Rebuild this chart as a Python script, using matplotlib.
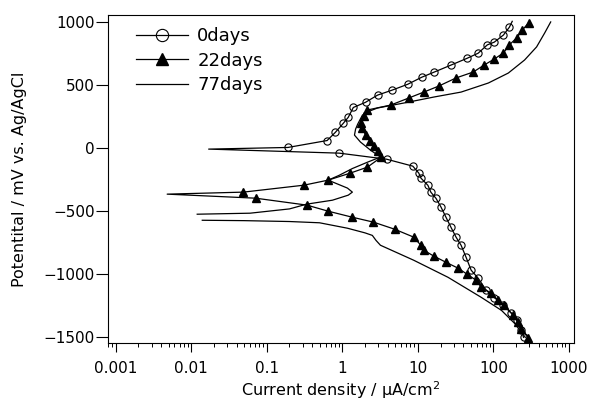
import numpy as np
import matplotlib
matplotlib.use('Agg')
import matplotlib.pyplot as plt

# current density (uA/cm2) and potential (mV vs Ag/AgCl)
i_0days = [251, 236, 203, 174, 136, 103, 80.7, 63.1, 50.9, 43.6, 37.4, 32.1, 27.5, 23.6,
           20.3, 17.4, 14.9, 13.6, 11.0, 10.3, 8.58, 3.86, 0.91, 0.017, 0.19, 0.63, 0.81,
           1.03, 1.20, 1.40, 2.03, 2.93, 4.50, 7.36, 11.3, 16.4, 27.5, 45.0, 62.9, 83.2,
           103, 136, 163, 178]
E_0days = [-1500, -1445, -1365, -1310, -1245, -1185, -1128, -1032, -968, -866, -770, -706,
           -628, -548, -468, -398, -350, -295, -238, -198, -143, -88, -40, -8, 5, 60, 125,
           196, 244, 322, 363, 420, 458, 506, 562, 602, 658, 712, 752, 818, 840, 896, 958, 1005]

i_22days = [290, 236, 215, 184, 139, 116, 94.4, 69.2, 59.3, 45.0, 34.2, 23.6, 16.4, 12.0,
            10.96, 8.84, 4.94, 2.59, 1.36, 0.65, 0.34, 0.071, 0.0048, 0.049, 0.31, 0.65,
            1.28, 2.15, 3.3, 3.0, 2.6, 2.3, 2.03, 1.85, 1.79, 1.91, 2.15, 4.37, 7.59, 12.0,
            19.0, 32.1, 54.2, 75.9, 103, 136, 163, 203, 243, 293]
E_22days = [-1508, -1430, -1381, -1325, -1246, -1206, -1151, -1103, -1048, -1000, -952,
            -905, -857, -810, -770, -706, -643, -587, -548, -500, -452, -397, -365, -349,
            -294, -254, -198, -151, -71, -25, 15, 60, 103, 159, 198, 254, 302, 341, 397,
            444, 492, 556, 603, 659, 706, 754, 818, 873, 937, 992]

i_77days = [265, 191, 128, 69.2, 25.1, 8.84, 3.2, 2.8, 2.5, 2.0, 1.17, 0.5, 0.2, 0.05, 0.014,
            np.nan,
            0.012, 0.06, 0.2, 0.34, 0.74, 1.20, 1.36, 1.17, 0.65, 0.9, 1.36, 2.15, 3.2, 2.36,
            1.74, 1.45, 1.50, 1.6, 1.85, 2.4, 2.93, 6.49, 16.4, 37.4, 86.0, 158, 259, 374,
            479, 575]
E_77days = [-1500, -1389, -1286, -1183, -1024, -889, -770, -732, -692, -672, -635, -592,
            -582, -575, -572,
            np.nan,
            -524, -516, -482, -444, -413, -373, -349, -317, -254, -217, -162, -112, -71,
            -16, 48, 103, 150, 190, 262, 298, 318, 357, 405, 444, 516, 595, 698, 802, 913, 1000]

labels = ['0days', '22days', '77days']
x_ticks = [0.001, 0.01, 0.1, 1, 10, 100, 1000]
x_tick_labels = ['0.001', '0.01', '0.1', '1', '10', '100', '1000']
y_ticks = [-1500, -1000, -500, 0, 500, 1000]

plt.rcParams['font.family'] = ['DejaVu Sans']

fig = plt.figure(figsize=(5.92, 4.01), dpi=100)
ax = fig.add_axes([0.1824, 0.1446, 0.7872, 0.8180])

# markers on every read point except the corrosion point / end of line
mark_0 = [k for k in range(len(i_0days)) if k not in (i_0days.index(0.017), len(i_0days) - 1)]
mark_22 = [k for k in range(len(i_22days)) if k != i_22days.index(0.0048)]

ax.plot(i_0days, E_0days, '-', color='black', lw=0.9, marker='o', ms=5.2,
        mfc='none', mec='black', mew=0.8, markevery=mark_0, label=labels[0])
ax.plot(i_22days, E_22days, '-', color='black', lw=0.9, marker='^', ms=5.2,
        mfc='black', mec='black', markevery=mark_22, label=labels[1])
ax.plot(i_77days, E_77days, '-', color='black', lw=0.9, label=labels[2])

ax.set_xscale('log')
ax.set_xlim(0.00079, 1170)
ax.set_ylim(-1545, 1055)
ax.set_xticks(x_ticks)
ax.set_xticklabels(x_tick_labels)
ax.set_yticks(y_ticks)

ax.tick_params(axis='x', which='major', direction='out', length=6.5, width=0.8,
               pad=6.5, labelsize=11, top=False)
ax.tick_params(axis='x', which='minor', direction='out', length=3, width=0.7, top=False)
ax.tick_params(axis='y', which='major', direction='out', length=8.5, width=0.8,
               pad=1, labelsize=11, right=False)
for s in ax.spines.values():
    s.set_linewidth(0.8)

ax.set_xlabel('Current density / μA/cm$^2$', fontsize=11.5, labelpad=2)
ax.set_ylabel('Potentital / mV vs. Ag/AgCl', fontsize=11.5, labelpad=12)

ax.legend(loc='upper left', bbox_to_anchor=(0.06, 0.963), frameon=False, fontsize=13,
          handlelength=2.9, handletextpad=0.5, labelspacing=0.36, borderpad=0,
          borderaxespad=0, markerscale=1.7)

fig.savefig('out.png', dpi=100)
